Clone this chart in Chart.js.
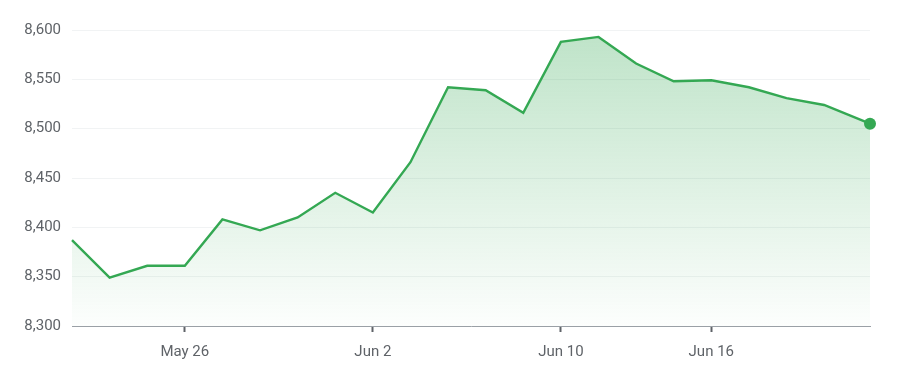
<!DOCTYPE html>
<html>
<head>
<meta charset="utf-8">
<script src="https://cdn.jsdelivr.net/npm/chart.js@4"></script>
<style>
  html, body { margin: 0; padding: 0; background: #ffffff; }
  #wrap { width: 904px; height: 380px; position: relative; }
</style>
</head>
<body>
<div id="wrap"><canvas id="c" width="904" height="380"></canvas></div>
<script>
// Trading sessions (index along the axis) and closing values
const sessionDates = ["May 21","May 22","May 23","May 26","May 27","May 28","May 29","May 30",
  "Jun 2","Jun 4","Jun 5","Jun 9","Jun 10","Jun 11","Jun 12","Jun 13","Jun 16","Jun 17",
  "Jun 18","Jun 19","Jun 20"];
const sessionIndex = [0,1,2,3,4,5,6,7,8,9,10,11,12,13,14,15,16,17,18,19,20,21.22];
const values = [8387,8349,8361,8361,8408,8397,8410,8435,8415,8466,8542,8539,8516,8588,8593,
  8566,8548,8549,8542,8531,8524,8505];
const xTickIndex = [3,8,13,17];
const xTickLabels = ["May 26","Jun 2","Jun 10","Jun 16"];
const yTicks = [8300,8350,8400,8450,8500,8550,8600];

const points = values.map((v, i) => ({ x: sessionIndex[i], y: v }));
const lastIdx = points.length - 1;
const green = '#34a853';

const ctx = document.getElementById('c').getContext('2d');
new Chart(ctx, {
  type: 'line',
  data: {
    datasets: [{
      data: points,
      borderColor: green,
      borderWidth: 2.4,
      tension: 0,
      clip: false,
      fill: 'start',
      backgroundColor: (c) => {
        const area = c.chart.chartArea;
        if (!area) return 'rgba(52,168,83,0.2)';
        const g = c.chart.ctx.createLinearGradient(0, area.top, 0, area.bottom);
        g.addColorStop(0, 'rgba(52,168,83,0.32)');
        g.addColorStop(1, 'rgba(52,168,83,0.01)');
        return g;
      },
      pointRadius: (c) => c.dataIndex === lastIdx ? 6 : 0,
      pointHoverRadius: 0,
      pointBackgroundColor: green,
      pointBorderWidth: 0
    }]
  },
  options: {
    responsive: false,
    animation: false,
    layout: { padding: { left: 0, right: 34, top: 30, bottom: 0 } },
    plugins: { legend: { display: false }, tooltip: { enabled: false } },
    scales: {
      x: {
        type: 'linear',
        min: sessionIndex[0],
        max: sessionIndex[lastIdx],
        afterBuildTicks: (s) => { s.ticks = xTickIndex.map(v => ({ value: v })); },
        afterFit: (s) => { s.height = 54; },
        ticks: {
          autoSkip: false,
          maxRotation: 0,
          padding: 11,
          color: '#5f6368',
          font: { family: 'Roboto', size: 15 },
          callback: (v) => { const k = xTickIndex.indexOf(v); return k >= 0 ? xTickLabels[k] : ''; }
        },
        grid: {
          drawOnChartArea: false,
          drawTicks: true,
          tickLength: 6,
          tickWidth: 2,
          tickColor: '#5f6368'
        },
        border: { display: true, color: '#9aa0a6', width: 1 }
      },
      y: {
        min: yTicks[0],
        max: yTicks[yTicks.length - 1],
        afterBuildTicks: (s) => { s.ticks = yTicks.map(v => ({ value: v })); },
        afterFit: (s) => { s.width = 72; },
        ticks: {
          padding: 11,
          color: '#5f6368',
          font: { family: 'Roboto', size: 15 },
          callback: (v) => v.toLocaleString('en-US')
        },
        grid: { color: '#f1f3f4', lineWidth: 1, drawTicks: false },
        border: { display: false }
      }
    }
  }
});
</script>
</body>
</html>
